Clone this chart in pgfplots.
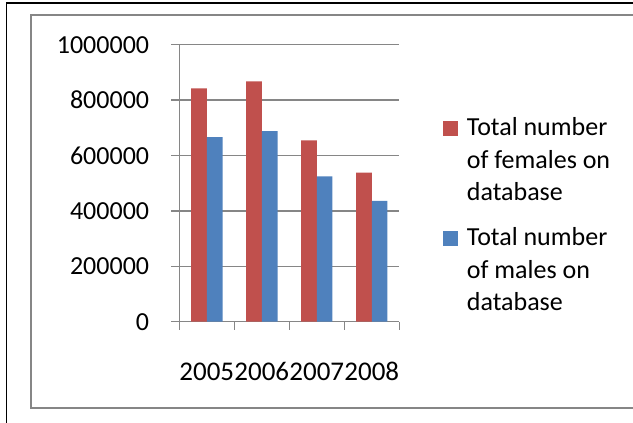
\documentclass[border=0pt]{standalone}
\usepackage{fontspec}
\setmainfont{Carlito}
\usepackage{pgfplots}
\pgfplotsset{compat=1.18}
\definecolor{femred}{HTML}{C0504D}
\definecolor{maleblue}{HTML}{4F81BD}
\definecolor{axisgrey}{HTML}{868686}

\begin{document}
\fontsize{26bp}{32.5bp}\selectfont
\begin{tikzpicture}
\useasboundingbox (0bp,0bp) rectangle (633bp,423bp);
% chart area frames
\draw[black, line width=1.6bp] (6.5bp,-5bp) -- (6.5bp,419.8bp) -- (640bp,419.8bp);
\draw[axisgrey, line width=2bp] (640bp,15bp) -- (30.7bp,15bp) -- (30.7bp,408bp) -- (640bp,408bp);
\begin{axis}[
  at={(179.3bp,101.3bp)}, anchor=south west,
  scale only axis, width=220bp, height=277bp,
  xmin=-0.5, xmax=3.5, ymin=0, ymax=1000000,
  axis lines*=left,
  axis line style={draw=axisgrey, line width=1.5bp},
  ybar=0pt, bar width=15.7bp,
  scaled y ticks=false,
  ytick={0,200000,400000,600000,800000,1000000},
  yticklabels={0,200000,400000,600000,800000,1000000},
  xtick={-0.5,0.5,1.5,2.5,3.5}, xticklabels={},
  extra x ticks={0,1,2,3},
  extra x tick labels={2005,2006,2007,2008},
  extra x tick style={tick style={draw=none},
    xticklabel style={anchor=base, yshift=-51bp,
      font=\fontsize{27bp}{32bp}\selectfont}},
  tick align=outside, major tick length=8bp,
  tick style={draw=axisgrey, line width=1.5bp},
  ymajorgrids, grid style={draw=axisgrey, line width=1.5bp},
  yticklabel style={anchor=east, inner sep=0pt, xshift=-22bp},
  legend style={at={(1.2,0.745)}, anchor=north west, draw=none, fill=none,
    inner sep=0pt, row sep=84bp, column sep=7bp,
    cells={anchor=base west}},
  legend image code/.code={\fill[#1] (0bp,0bp) rectangle (14.4bp,15bp);},
]
\addplot[fill=femred, draw=none] coordinates {(0,842000) (1,868000) (2,655000) (3,538000)};
\addplot[fill=maleblue, draw=none] coordinates {(0,666000) (1,688000) (2,525000) (3,436000)};
\legend{\parbox[t]{170bp}{Total number\\of females on\\database},
        \parbox[t]{170bp}{Total number\\of males on\\database}}
\end{axis}
\end{tikzpicture}
\end{document}
